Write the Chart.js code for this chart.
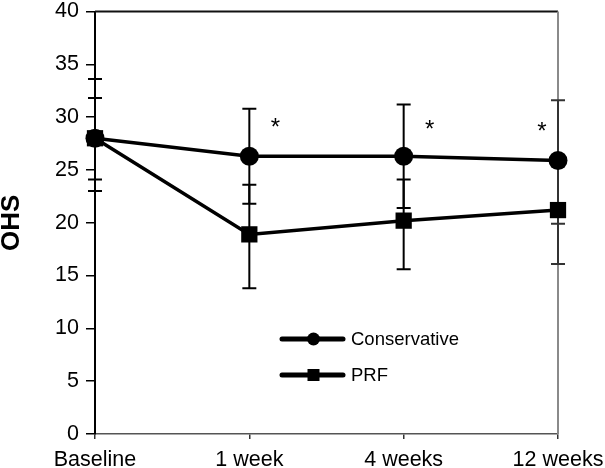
<!DOCTYPE html>
<html>
<head>
<meta charset="utf-8">
<script src="https://cdn.jsdelivr.net/npm/chart.js@4.4.0/dist/chart.umd.min.js"></script>
<style>
html,body{margin:0;padding:0;background:#fff;}
#c{display:block;}
</style>
</head>
<body>
<canvas id="c" width="605" height="468"></canvas>
<script>
const categories = ['Baseline', '1 week', '4 weeks', '12 weeks'];
const conservative = [28, 26.3, 26.3, 25.9];
const prf = [28, 18.9, 20.2, 21.2];
const conservativeUpper = [33.6, 30.8, 31.2, 31.6];
const conservativeLower = [23.0, 21.8, 21.4, 19.9];
const prfUpper = [31.8, 23.6, 24.1, 26.3];
const prfLower = [24.1, 13.8, 15.6, 16.1];
const starCategories = ['1 week', '4 weeks', '12 weeks'];
const starValues = [29.3, 29.1, 28.9];
const yTicks = [0, 5, 10, 15, 20, 25, 30, 35, 40];

const FONT = "'Liberation Sans', Arial, sans-serif";

const extras = {
  id: 'extras',
  beforeDatasetsDraw(chart) {
    const ctx = chart.ctx;
    const x = chart.scales.x, y = chart.scales.y;
    const ca = chart.chartArea;
    ctx.save();
    ctx.strokeStyle = '#111';
    ctx.lineWidth = 2;
    ctx.beginPath();
    ctx.moveTo(ca.left, ca.top);
    ctx.lineTo(ca.right, ca.top);
    ctx.stroke();
    ctx.strokeStyle = '#8a8a8a';
    ctx.beginPath();
    ctx.moveTo(ca.right, ca.top);
    ctx.lineTo(ca.right, ca.bottom);
    ctx.stroke();
    const bars = [[conservative, conservativeUpper, conservativeLower], [prf, prfUpper, prfLower]];
    bars.forEach(([vals, up, lo]) => {
      vals.forEach((v, i) => {
        const px = x.getPixelForValue(i);
        ctx.strokeStyle = i === 3 ? '#333' : '#000';
        ctx.lineWidth = 2;
        ctx.beginPath();
        ctx.moveTo(px, y.getPixelForValue(up[i]));
        ctx.lineTo(px, y.getPixelForValue(lo[i]));
        [up[i], lo[i]].forEach(e => {
          const py = y.getPixelForValue(e);
          ctx.moveTo(px - 7, py);
          ctx.lineTo(px + 7, py);
        });
        ctx.stroke();
      });
    });
    ctx.restore();
  },
  afterDatasetsDraw(chart) {
    const ctx = chart.ctx;
    const x = chart.scales.x, y = chart.scales.y;
    ctx.save();
    ctx.fillStyle = '#000';
    ctx.font = '24px ' + FONT;
    ctx.textAlign = 'center';
    ctx.textBaseline = 'middle';
    starCategories.forEach((c, i) => {
      const idx = categories.indexOf(c);
      const dx = idx === categories.length - 1 ? -16 : 26;
      ctx.fillText('*', x.getPixelForValue(idx) + dx, y.getPixelForValue(starValues[i]) + 4);
    });
    const items = chart.data.datasets;
    const lx0 = 282, lx1 = 343, ly0 = 339, gap = 36;
    items.forEach((ds, i) => {
      const ly = ly0 + i * gap;
      ctx.strokeStyle = '#000';
      ctx.lineWidth = 5;
      ctx.lineCap = 'round';
      ctx.beginPath();
      ctx.moveTo(lx0, ly);
      ctx.lineTo(lx1, ly);
      ctx.stroke();
      const mx = (lx0 + lx1) / 2 + 1;
      ctx.fillStyle = '#000';
      if (ds.pointStyle === 'circle') {
        ctx.beginPath();
        ctx.arc(mx, ly, 6.5, 0, Math.PI * 2);
        ctx.fill();
      } else {
        ctx.fillRect(mx - 6, ly - 6, 12, 12);
      }
      ctx.font = '18.5px ' + FONT;
      ctx.textAlign = 'left';
      ctx.textBaseline = 'middle';
      ctx.fillText(ds.label, 351, ly + 1);
    });
    ctx.restore();
  }
};

new Chart(document.getElementById('c'), {
  type: 'line',
  data: {
    labels: categories,
    datasets: [
      {
        label: 'Conservative',
        data: conservative,
        borderColor: '#000',
        backgroundColor: '#000',
        borderWidth: 3.5,
        pointStyle: 'circle',
        pointRadius: 9.5,
        pointBorderWidth: 0,
        tension: 0,
        clip: false
      },
      {
        label: 'PRF',
        data: prf,
        borderColor: '#000',
        backgroundColor: '#000',
        borderWidth: 3.5,
        pointStyle: 'rect',
        pointRadius: 11.5,
        pointBorderWidth: 0,
        tension: 0,
        clip: false
      }
    ]
  },
  options: {
    responsive: false,
    animation: false,
    devicePixelRatio: 1,
    layout: { padding: { top: 10, right: 47, left: 0, bottom: 0 } },
    plugins: { legend: { display: false }, tooltip: { enabled: false } },
    scales: {
      x: {
        type: 'category',
        offset: false,
        grid: { display: true, drawOnChartArea: false, drawTicks: true, tickLength: 5, color: '#333', lineWidth: 1.5 },
        border: { display: true, color: '#555', width: 1.5 },
        ticks: { font: { size: 21.5, family: FONT }, color: '#000', padding: 8, maxRotation: 0, autoSkip: false },
        afterFit(s) { s.height = 34; s.paddingLeft = 0; s.paddingRight = 0; }
      },
      y: {
        min: 0,
        max: 40,
        afterBuildTicks(s) { s.ticks = yTicks.map(v => ({ value: v })); },
        grid: { display: true, drawOnChartArea: false, drawTicks: true, tickLength: 9, color: '#000', lineWidth: 1.5 },
        border: { display: true, color: '#000', width: 2 },
        ticks: { font: { size: 21.5, family: FONT }, color: '#000', padding: 7 },
        title: { display: true, text: 'OHS', color: '#000', font: { size: 26, weight: 'bold', family: FONT }, padding: { top: -4, bottom: 0 } },
        afterFit(s) { s.width = 95; s.paddingTop = 0; s.paddingBottom = 0; }
      }
    }
  },
  plugins: [extras]
});
</script>
</body>
</html>
